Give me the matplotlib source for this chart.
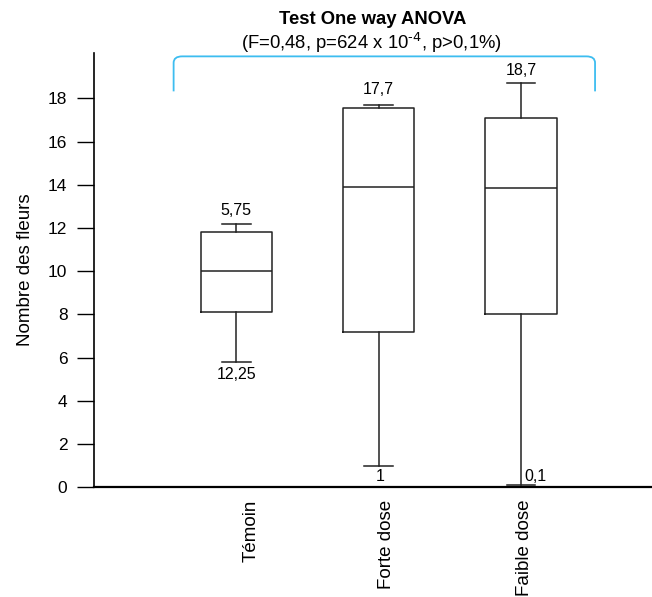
import matplotlib.pyplot as plt
import matplotlib.transforms as mtransforms
from matplotlib.path import Path
from matplotlib.patches import PathPatch

plt.rcParams['font.family'] = ['Liberation Sans', 'DejaVu Sans']

groups = ["Témoin", "Forte dose", "Faible dose"]
whis_low = [5.8, 1.0, 0.1]
q1 = [8.1, 7.2, 8.0]
med = [10.0, 13.9, 13.85]
q3 = [11.8, 17.55, 17.1]
whis_high = [12.2, 17.7, 18.7]
top_labels = ["5,75", "17,7", "18,7"]
low_labels = ["12,25", "1", "0,1"]

fig = plt.figure(figsize=(6.52, 5.97), dpi=100)
ax = fig.add_axes([0.144, 0.184, 0.856, 0.727])

stats = []
for i, g in enumerate(groups):
    stats.append({"label": g, "whislo": whis_low[i], "q1": q1[i], "med": med[i],
                  "q3": q3[i], "whishi": whis_high[i], "fliers": []})

pos = [1, 2, 3]
ax.bxp(stats, positions=pos, widths=0.5, capwidths=0.2, showfliers=False,
       boxprops=dict(color="#222222", linewidth=1.1),
       medianprops=dict(color="#222222", linewidth=1.1),
       whiskerprops=dict(color="#222222", linewidth=1.1),
       capprops=dict(color="#222222", linewidth=1.1))

# value labels
fs = 11.5
ax.text(1, whis_high[0] + 0.25, top_labels[0], ha="center", va="bottom", fontsize=fs)
ax.text(1, whis_low[0] - 0.25, low_labels[0], ha="center", va="top", fontsize=fs)
ax.text(2, whis_high[1] + 0.35, top_labels[1], ha="center", va="bottom", fontsize=fs)
ax.text(2.01, 0.15, low_labels[1], ha="center", va="bottom", fontsize=fs)
ax.text(3, whis_high[2] + 0.25, top_labels[2], ha="center", va="bottom", fontsize=fs)
ax.text(3.1, 0.15, low_labels[2], ha="center", va="bottom", fontsize=fs)

ax.set_xlim(0, 3.92)
ax.set_ylim(0, 20.1)
ax.set_yticks(range(0, 19, 2))
ax.set_xticks(pos)
ax.set_xticklabels(groups, rotation=90, fontsize=13.5)
ax.tick_params(axis="x", length=0, pad=9)
ax.tick_params(axis="y", direction="out", length=12, width=1, labelsize=12.5, pad=7)
ax.spines["top"].set_visible(False)
ax.spines["right"].set_visible(False)
ax.spines["left"].set_linewidth(1.2)
ax.spines["bottom"].set_linewidth(1.6)
ax.set_ylabel("Nombre des fleurs", fontsize=13.5, labelpad=10)

# nudge the rotated category labels like in the original
for lab, dx in zip(ax.get_xticklabels(), [15, 8, 3]):
    lab.set_transform(lab.get_transform() +
                      mtransforms.ScaledTranslation(dx / 100, 0, fig.dpi_scale_trans))

# bracket
bx0, bx1, btop, bbot, r = 0.56, 3.52, 19.95, 18.33, 0.06
verts = [(bx0, bbot), (bx0, btop - 0.3), (bx0, btop), (bx0 + r, btop),
         (bx1 - r, btop), (bx1, btop), (bx1, btop - 0.3), (bx1, bbot)]
codes = [Path.MOVETO, Path.LINETO, Path.CURVE3, Path.CURVE3,
         Path.LINETO, Path.CURVE3, Path.CURVE3, Path.LINETO]
ax.add_patch(PathPatch(Path(verts, codes), fill=False, edgecolor="#3DBDF0",
                       linewidth=1.3, clip_on=False))

fig.text(0.571, 0.968, "Test One way ANOVA", ha="center", va="center",
         fontsize=13.3, fontweight="bold")
fig.text(0.569, 0.928, "(F=0,48, p=624 x 10$^{\\text{-4}}$, p>0,1%)", ha="center",
         va="center", fontsize=13.3)

fig.savefig("out.png", dpi=100)
